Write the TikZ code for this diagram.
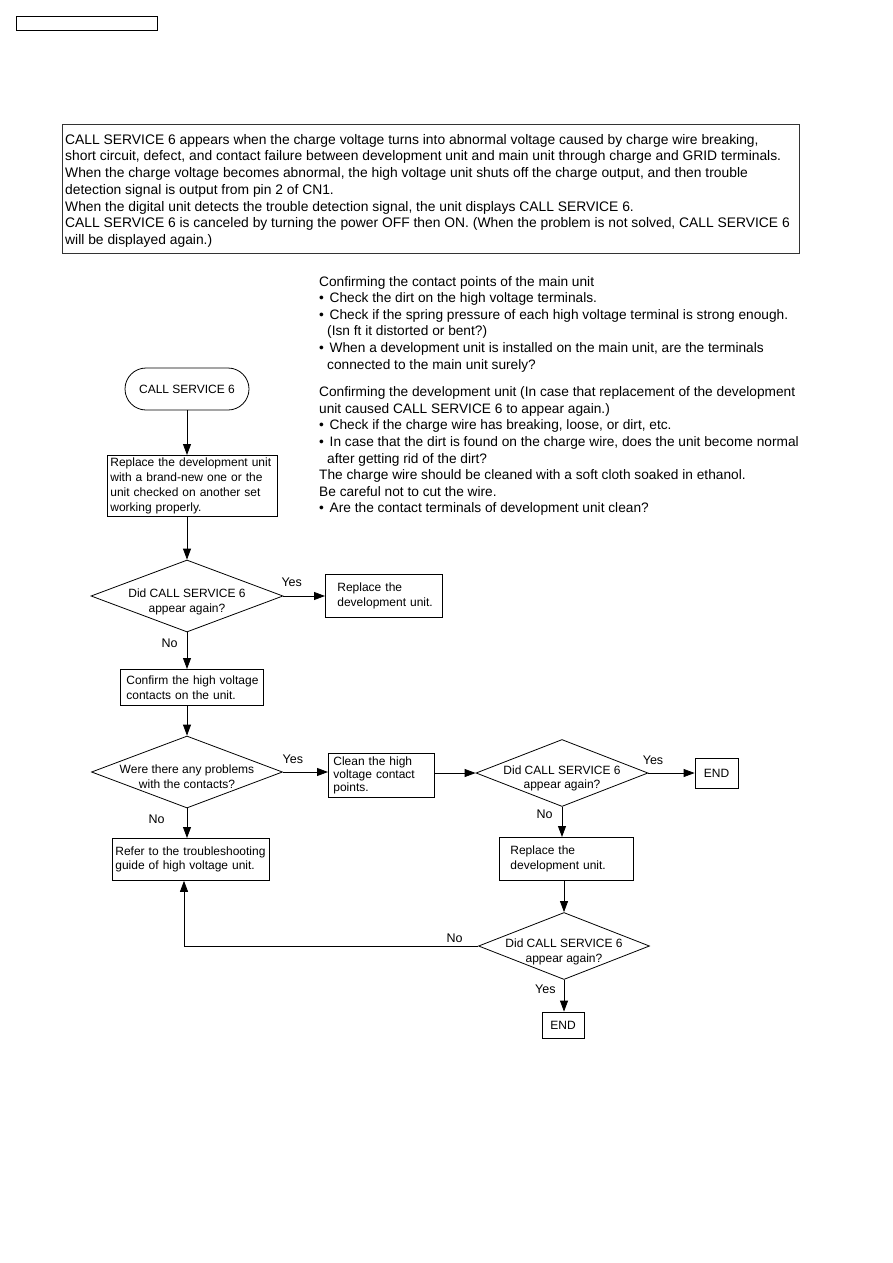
\documentclass[tikz,border=0pt]{standalone}
\usepackage{fontspec}
\setmainfont{Liberation Sans}
\usetikzlibrary{arrows.meta,shapes.geometric}
\begin{document}
\begin{tikzpicture}[x=1pt,y=-1pt,
  every node/.style={inner sep=0pt},
  fc/.style={font=\fontsize{12}{14.7}\selectfont},
  lbl/.style={font=\fontsize{12.5}{14}\selectfont},
  boxn/.style={draw, line width=0.8pt, fc, align=left, anchor=north west},
  dia/.style={draw, line width=0.8pt, diamond, minimum width=#1, minimum height=72},
  arr/.style={line width=0.8pt, -{Triangle[length=11pt,width=8pt]}},
  ln/.style={line width=0.8pt}
]
\useasboundingbox (0,0) rectangle (893,1263);

% small top-left frame
\node[draw, line width=1pt, minimum width=141, minimum height=14, anchor=north west] (topbox) at (16,16) {};

% header box
\node[draw, line width=0.8pt, draw=black!80, minimum width=737, minimum height=129, anchor=north west] (hdr) at (62,124) {};
\node[anchor=north west, align=left, font=\fontsize{13.85}{16.7}\selectfont] (hdrtxt) at (65,134) {%
CALL SERVICE 6 appears when the charge voltage turns into abnormal voltage caused by charge wire breaking,\\
short circuit, defect, and contact failure between development unit and main unit through charge and GRID terminals.\\
When the charge voltage becomes abnormal, the high voltage unit shuts off the charge output, and then trouble\\
detection signal is output from pin 2 of CN1.\\
When the digital unit detects the trouble detection signal, the unit displays CALL SERVICE 6.\\
CALL SERVICE 6 is canceled by turning the power OFF then ON. (When the problem is not solved, CALL SERVICE 6\\
will be displayed again.)};

% notes
\newcommand{\bul}{\makebox[10.5pt][l]{\textbullet}}
\newcommand{\cnt}{\hspace*{8pt}}
\node[anchor=north west, align=left, font=\fontsize{13.7}{16.6}\selectfont] (notes) at (319,276) {%
Confirming the contact points of the main unit\\
\bul Check the dirt on the high voltage terminals.\\
\bul Check if the spring pressure of each high voltage terminal is strong enough.\\
\cnt (Isn ft it distorted or bent?)\\
\bul When a development unit is installed on the main unit, are the terminals\\
\cnt connected to the main unit surely?\\[11pt]
Confirming the development unit (In case that replacement of the development\\
unit caused CALL SERVICE 6 to appear again.)\\
\bul Check if the charge wire has breaking, loose, or dirt, etc.\\
\bul In case that the dirt is found on the charge wire, does the unit become normal\\
\cnt after getting rid of the dirt?\\
The charge wire should be cleaned with a soft cloth soaked in ethanol.\\
Be careful not to cut the wire.\\
\bul Are the contact terminals of development unit clean?};

% flowchart
\node[draw, line width=0.8pt, rounded corners=21pt, minimum width=124, minimum height=42, fc] (start) at (187,389) {CALL SERVICE 6};

\node[boxn, text width=164, inner xsep=3, minimum height=61] (b1) at (107,455) {\mbox{Replace the development unit}\\\mbox{with a brand-new one or the}\\\mbox{unit checked on another set}\\\mbox{working properly.}};

\node[dia=192] (d1) at (187,596) {};
\node[fc, align=center] (d1t) at (187,602) {Did CALL SERVICE 6\\appear again?};

\node[boxn, text width=93, inner xsep=12, minimum height=43] (b2) at (325,574) {\mbox{Replace the}\\\mbox{development unit.}};

\node[boxn, text width=131, inner xsep=6, minimum height=36] (b3) at (120,669) {\mbox{Confirm the high voltage}\\\mbox{contacts on the unit.}};

\node[dia=191] (d2) at (187,772) {};
\node[fc, align=center] (d2t) at (187,777) {Were there any problems\\with the contacts?};

\node[boxn, text width=96, inner xsep=5, minimum height=44, font=\fontsize{12}{12.7}\selectfont] (b4) at (328,753) {\mbox{Clean the high}\\\mbox{voltage contact}\\\mbox{points.}};

\node[dia=172, minimum height=67] (d3) at (562,773) {};
\node[fc, align=center] (d3t) at (562,778.5) {Did CALL SERVICE 6\\appear again?};

\node[draw, line width=0.8pt, fc, minimum width=43, minimum height=30] (end1) at (716.5,773) {END};

\node[boxn, text width=112, inner xsep=11, minimum height=43] (b5) at (499,837) {\mbox{Replace the}\\\mbox{development unit.}};

\node[dia=171, minimum height=67] (d4) at (564,946) {};
\node[fc, align=center] (d4t) at (564,952) {Did CALL SERVICE 6\\appear again?};

\node[draw, line width=0.8pt, fc, minimum width=42, minimum height=26] (end2) at (563,1025) {END};

\node[boxn, text width=151, inner xsep=3, minimum height=42] (b6) at (112,838) {\mbox{Refer to the troubleshooting}\\\mbox{guide of high voltage unit.}};

% connectors
\draw[arr] (start.south) -- (b1.north -| start.south);
\draw[arr] (b1.south -| d1.north) -- (d1.north);
\draw[arr] (d1.east) -- (b2.west |- d1.east) node[lbl, pos=0.2, above=9pt] (y1) {Yes};
\draw[arr] (d1.south) -- (b3.north -| d1.south) node[lbl, pos=0.3, left=9pt] (n1) {No};
\draw[arr] (b3.south -| d2.north) -- (d2.north);
\draw[arr] (d2.east) -- (b4.west |- d2.east) node[lbl, pos=0.22, above=8pt] (y2) {Yes};
\draw[arr] (b4.east |- d3.west) -- (d3.west);
\draw[arr] (d3.east) -- (end1.west) node[lbl, pos=0.1, above=8pt] (y3) {Yes};
\draw[arr] (d2.south) -- (b6.north -| d2.south) node[lbl, pos=0.35, left=22pt] (n2) {No};
\draw[arr] (d3.south) -- (b5.north -| d3.south) node[lbl, pos=0.25, left=9pt] (n3) {No};
\draw[arr] (b5.south -| d4.north) -- (d4.north);
\draw[arr] (d4.west) -- (184,946) node[lbl, pos=0.08, above=3pt] (n4) {No} -- (b6.south -| 184,946);
\draw[arr] (d4.south) -- (end2.north -| d4.south) node[lbl, pos=0.3, left=8pt] (y4) {Yes};
\end{tikzpicture}
\end{document}
